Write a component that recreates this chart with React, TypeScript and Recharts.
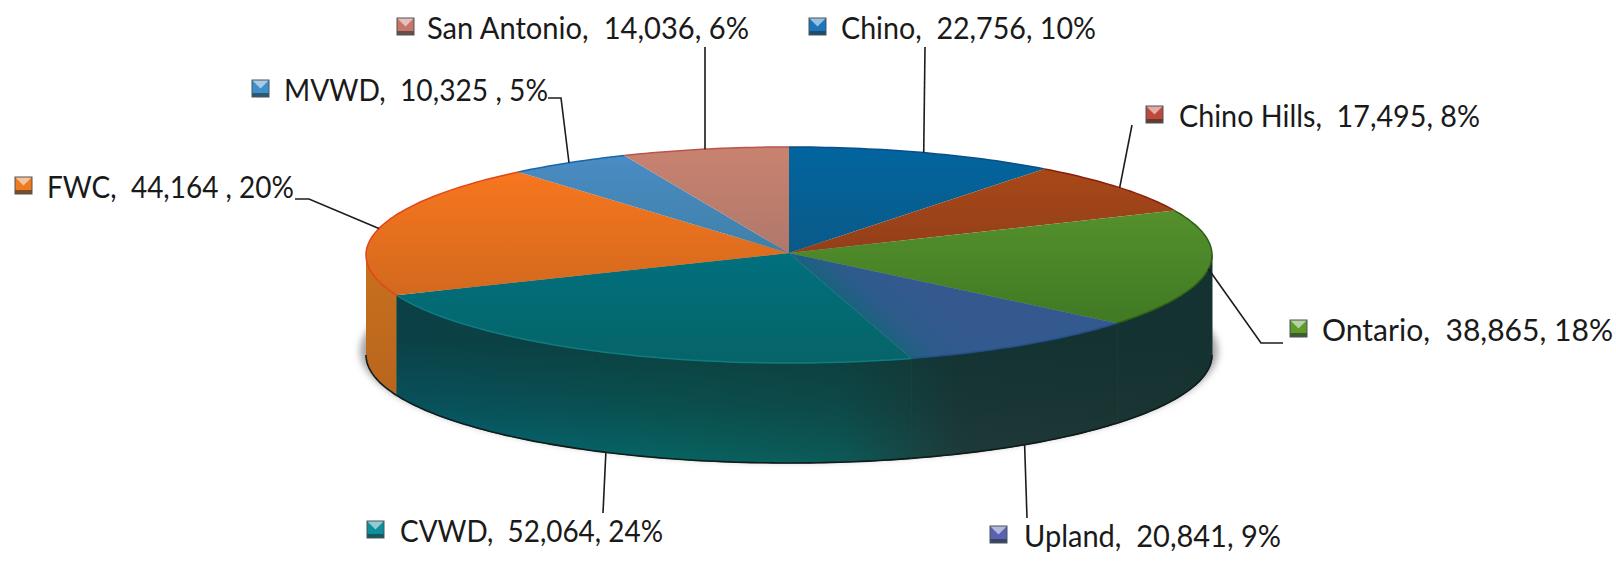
import React from 'react';
import { PieChart, Pie } from 'recharts';

const categories = ['Chino', 'Chino Hills', 'Ontario', 'Upland', 'CVWD', 'FWC', 'MVWD', 'San Antonio'];
const values = [22756, 17495, 38865, 20841, 52064, 44164, 10325, 14036];
const labelTexts = [
  'Chino,  22,756, 10%',
  'Chino Hills,  17,495, 8%',
  'Ontario,  38,865, 18%',
  'Upland,  20,841, 9%',
  'CVWD,  52,064, 24%',
  'FWC,  44,164 , 20%',
  'MVWD,  10,325 , 5%',
  'San Antonio,  14,036, 6%',
];
const swatchColors = ['#1b76bd', '#c0483a', '#5f9a2c', '#5a62b0', '#0f8f9c', '#ee7a22', '#3f8fca', '#c8766a'];

// look of the disc
const CX = 789;
const CY = 255;
const RX = 423;
const RY = 108;
const DEPTH = 100;
const HUB_LIFT = 2;

const topFills = ['url(#topChino)', 'url(#topHills)', 'url(#topOntario)', 'url(#topUpland)', 'url(#topCvwd)', 'url(#topFwc)', 'url(#topMvwd)', 'url(#topSan)'];
const rimColors = ['#0a4f86', '#8a1f0c', '#2e5d14', '#24508a', '#0f7c84', '#e2451a', '#1668a8', '#b8564e'];
const wallFills = ['#0a4f86', '#8a1f0c', 'url(#wallDark)', 'url(#wallDark)', 'url(#wallDark)', 'url(#wallFwc)', '#1668a8', '#b8564e'];

// where each label sits: swatch x, text x, text width, baseline, then the leader bends
const labelLayout = [
  { sx: 809, tx: 841, tw: 255, by: 39, bends: [[925, 47]] },
  { sx: 1146, tx: 1179, tw: 301, by: 127, bends: [[1132, 125]] },
  { sx: 1290, tx: 1322, tw: 291, by: 341, bends: [[1261, 343], [1283, 343]] },
  { sx: 990, tx: 1024, tw: 257, by: 547, base: true, bends: [[1027, 518]] },
  { sx: 367, tx: 400, tw: 263, by: 542, base: true, bends: [[603, 513]] },
  { sx: 15, tx: 47, tw: 247, by: 198, bends: [[309, 199], [295, 199]] },
  { sx: 252, tx: 284, tw: 264, by: 101, bends: [[561, 98], [548, 98]] },
  { sx: 397, tx: 427, tw: 322, by: 39, bends: [[705, 47]] },
];

const chartData = categories.map((name, i) => ({ name, value: values[i], fill: topFills[i], idx: i }));
const shadowData = [{ name: 'shadow', value: values.reduce((a, b) => a + b, 0) }];

const rimPoint = (t: number, rx: number, ry: number, cx: number, cy: number) => {
  const r = (t * Math.PI) / 180;
  return [cx + rx * Math.sin(r), cy - ry * Math.cos(r)];
};

const arcPoints = (t0: number, t1: number, rx: number, ry: number, cx: number, cy: number) => {
  const pts: number[][] = [];
  const n = Math.max(2, Math.ceil(Math.abs(t1 - t0)));
  for (let i = 0; i <= n; i++) pts.push(rimPoint(t0 + ((t1 - t0) * i) / n, rx, ry, cx, cy));
  return pts;
};

const toPath = (pts: number[][]) => pts.map((p, i) => `${i ? 'L' : 'M'}${p[0].toFixed(1)} ${p[1].toFixed(1)}`).join(' ');

function ShadowShape(props: any) {
  const { cx, cy, outerRadius } = props;
  const pts = arcPoints(0, 360, outerRadius + 6, (outerRadius * RY) / RX + 2, cx, cy + DEPTH - 4);
  return <path d={toPath(pts) + ' Z'} fill="#a6a6a6" filter="url(#discShadow)" />;
}

function SliceShape(props: any) {
  const { cx, cy, outerRadius, startAngle, endAngle, fill, payload } = props;
  const i = payload?.idx ?? props.idx ?? 0;
  const ry = (outerRadius * RY) / RX;
  const t0 = 90 - startAngle;
  const t1 = 90 - endAngle;
  const rim = arcPoints(t0, t1, outerRadius, ry, cx, cy);

  // only the part of the rim facing the viewer gets a wall
  const w0 = Math.max(t0, 90);
  const w1 = Math.min(t1, 270);
  let wall = null;
  if (w1 > w0) {
    const upper = arcPoints(w0, w1, outerRadius, ry, cx, cy);
    const lower = arcPoints(w1, w0, outerRadius, ry, cx, cy + DEPTH);
    const d = toPath([...upper, ...lower]) + ' Z';
    const dark = wallFills[i] === 'url(#wallDark)';
    wall = (
      <g>
        {/* same paint as a thin stroke, hides the seam between neighbours */}
        <path d={d} fill={wallFills[i]} stroke={dark ? wallFills[i] : 'none'} strokeWidth={1} />
        {dark && <path d={d} fill="url(#wallShade)" />}
        <path d={toPath(lower)} fill="none" stroke="#101c1c" strokeWidth={1.6} />
      </g>
    );
  }

  return (
    <g>
      {wall}
      <path d={toPath([[cx, cy - HUB_LIFT], ...rim]) + ' Z'} fill={fill} />
      <path d={toPath(rim)} fill="none" stroke={rimColors[i]} strokeWidth={1.5} />
    </g>
  );
}

function renderLeader(props: any) {
  const { midAngle, cx, cy, outerRadius, index } = props;
  const l = labelLayout[index];
  const ry = (outerRadius * RY) / RX;
  const start = rimPoint(90 - midAngle, outerRadius, ry, cx, cy + (l.base ? DEPTH : 0));
  const pts = [start, ...l.bends].map((p) => p.join(',')).join(' ');
  return <polyline key={`leader-${index}`} points={pts} fill="none" stroke="#1c1c1c" strokeWidth={1.6} />;
}

function renderLabel(props: any) {
  const { index } = props;
  const l = labelLayout[index];
  const s = 17;
  const y = l.by - 21;
  const c = swatchColors[index];
  return (
    <g key={`label-${index}`}>
      <rect x={l.sx} y={y} width={s} height={s} fill={c} />
      <polygon points={`${l.sx},${y} ${l.sx + s},${y} ${l.sx + s / 2},${y + s / 2}`} fill="#ffffff" fillOpacity={0.55} />
      <rect x={l.sx} y={y + s - 4} width={s} height={4} fill="#1c2c2c" fillOpacity={0.55} />
      <rect x={l.sx} y={y} width={s} height={s} fill="none" stroke="#4a5458" strokeWidth={1} />
      <text
        x={l.tx}
        y={l.by}
        textLength={l.tw}
        lengthAdjust="spacingAndGlyphs"
        fontFamily="Lato, 'Open Sans', sans-serif"
        fontSize={31}
        fill="#1a1a1a"
        style={{ whiteSpace: 'pre' }}
      >
        {labelTexts[index]}
      </text>
    </g>
  );
}

const vGrad = (id: string, a: string, b: string) => (
  <linearGradient id={id} x1="0" y1="0" x2="0" y2="1">
    <stop offset="0%" stopColor={a} />
    <stop offset="100%" stopColor={b} />
  </linearGradient>
);

export default function App() {
  return (
    <div style={{ position: 'absolute', left: 0, top: 0, width: 1616, height: 565, background: '#fff' }}>
      <PieChart width={1616} height={565} margin={{ top: 0, right: 0, bottom: 0, left: 0 }}>
        <defs>
          {vGrad('topChino', '#02659f', '#0a5a88')}
          {vGrad('topHills', '#a84818', '#933f1a')}
          {vGrad('topOntario', '#55902c', '#3f7a24')}
          <linearGradient id="topUpland" gradientUnits="userSpaceOnUse" x1="835" y1="325" x2="885" y2="270">
            <stop offset="0%" stopColor="#04696f" />
            <stop offset="60%" stopColor="#2c5c8a" />
            <stop offset="100%" stopColor="#33598f" />
          </linearGradient>
          {vGrad('topCvwd', '#01707e', '#066468')}
          {vGrad('topFwc', '#f8761e', '#d2691e')}
          {vGrad('topMvwd', '#4a8cc4', '#3f80a8')}
          {vGrad('topSan', '#c98270', '#b0786a')}
          <linearGradient id="wallDark" gradientUnits="userSpaceOnUse" x1="381" y1="0" x2="1215" y2="0">
            <stop offset="0%" stopColor="#03697c" />
            <stop offset="35%" stopColor="#076462" />
            <stop offset="55%" stopColor="#0c5a58" />
            <stop offset="70%" stopColor="#1f3a38" />
            <stop offset="100%" stopColor="#203633" />
          </linearGradient>
          <linearGradient id="wallShade" gradientUnits="userSpaceOnUse" x1="0" y1="340" x2="0" y2="463">
            <stop offset="0%" stopColor="#0e3030" stopOpacity={0.7} />
            <stop offset="55%" stopColor="#0e3030" stopOpacity={0.4} />
            <stop offset="100%" stopColor="#0e3030" stopOpacity={0} />
          </linearGradient>
          {vGrad('wallFwc', '#c8701e', '#b8651e')}
          <filter id="discShadow" x="-5%" y="-20%" width="110%" height="140%">
            <feGaussianBlur stdDeviation="3.5" />
          </filter>
        </defs>
        <Pie
          data={shadowData}
          dataKey="value"
          cx={CX}
          cy={CY}
          outerRadius={RX}
          startAngle={90}
          endAngle={-270}
          shape={ShadowShape}
          label={false}
          labelLine={false}
          isAnimationActive={false}
        />
        <Pie
          data={chartData}
          dataKey="value"
          nameKey="name"
          cx={CX}
          cy={CY}
          outerRadius={RX}
          startAngle={90}
          endAngle={-270}
          shape={SliceShape}
          label={renderLabel}
          labelLine={renderLeader}
          isAnimationActive={false}
        />
      </PieChart>
    </div>
  );
}
